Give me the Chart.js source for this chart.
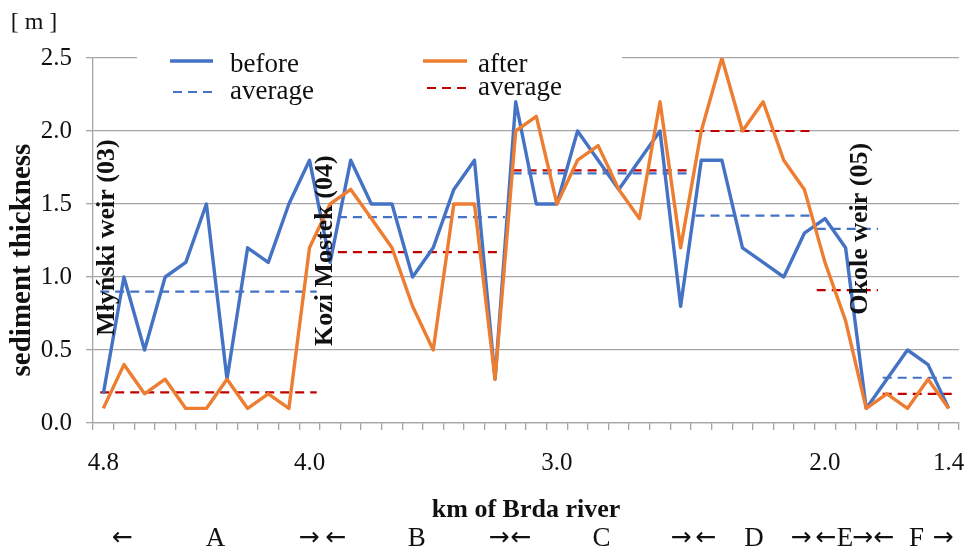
<!DOCTYPE html>
<html>
<head>
<meta charset="utf-8">
<script src="https://cdn.jsdelivr.net/npm/chart.js@4.4.1/dist/chart.umd.min.js"></script>
<style>
    html, body { margin: 0; padding: 0; background: #fff; }
    #wrap { width: 965px; height: 548px; }
</style>
</head>
<body>
<div id="wrap"><canvas id="sedimentChart" width="965" height="548"></canvas></div>
<script>
// sediment thickness [m] at 42 sampling points, from km 4.8 down to km 1.4
const before = [0.2, 1.0, 0.5, 1.0, 1.1, 1.5, 0.3, 1.2, 1.1, 1.5, 1.8, 1.1, 1.8, 1.5, 1.5, 1.0, 1.2, 1.6, 1.8, 0.3,
    2.2, 1.5, 1.5, 2.0, 1.8, 1.6, 1.8, 2.0, 0.8, 1.8, 1.8, 1.2, 1.1, 1.0, 1.3, 1.4, 1.2, 0.1, 0.3, 0.5, 0.4, 0.1];
const after = [0.1, 0.4, 0.2, 0.3, 0.1, 0.1, 0.3, 0.1, 0.2, 0.1, 1.2, 1.5, 1.6, 1.4, 1.2, 0.8, 0.5, 1.5, 1.5, 0.3,
    2.0, 2.1, 1.5, 1.8, 1.9, 1.6, 1.4, 2.2, 1.2, 2.0, 2.5, 2.0, 2.2, 1.8, 1.6, 1.1, 0.7, 0.1, 0.2, 0.1, 0.3, 0.1];

// km labels under the axis and the sampling point they sit under
const kmTickLabels = ["4.8", "4.0", "3.0", "2.0", "1.4"];
const kmTickIdx = [0, 10, 22, 35, 41];

// section averages A..F, each drawn from avgFrom to avgTo (sampling point index)
const sections = ["A", "B", "C", "D", "E", "F"];
const avgFrom = [-0.15, 10.65, 19.85, 28.72, 34.6, 37.8];
const avgTo = [10.35, 19.48, 28.29, 34.35, 37.57, 41.2];
const avgBefore = [0.9, 1.41, 1.71, 1.42, 1.33, 0.31];
const avgAfter = [0.21, 1.17, 1.73, 2.0, 0.91, 0.2];

// names of the weirs / bridge written vertically in the plot
const places = ["Młyński weir (03)", "Kozi Mostek (04)", "Okole weir (05)"];

// placement of the extra texts (in axis units)
const placeIdx = [0.2, 10.75, 36.7];
const placeVal = [1.27, 1.18, 1.33];
const sectionIdx = [5.44, 15.2, 24.16, 31.56, 35.97, 39.44];
const arrowTexts = ["←", "→", "←", "→", "←", "→", "←", "→", "←", "→", "←", "→"];
const arrowIdx = [0.93, 9.98, 11.28, 19.19, 20.26, 28.02, 29.23, 33.84, 35.05, 36.82, 37.86, 40.72];

const BLUE = "#4472c4";
const ORANGE = "#ed7d31";
const RED = "#c00000";
const GREY = "#a6a6a6";
const INK = "#111";
const SERIF = "'Liberation Serif', 'Times New Roman', serif";

const toPoints = (values) => values.map((v, i) => ({ x: i, y: v }));

// one dataset for all six dashed pieces, split by null gaps
function avgPoints(values) {
    const pts = [];
    values.forEach((v, k) => {
        pts.push({ x: avgFrom[k], y: v }, { x: avgTo[k], y: v });
        if (k < values.length - 1) {
            pts.push({ x: (avgTo[k] + avgFrom[k + 1]) / 2, y: null });
        }
    });
    return pts;
}

// tick marks sit between sampling points
const boundaries = before.map((_, i) => i - 0.5).concat([before.length - 0.5]);

const textLayer = {
    id: "textLayer",
    beforeDatasetsDraw(chart) {
        const ctx = chart.ctx;
        ctx.save();
        // legend box is white and hides the top grid line
        ctx.fillStyle = "#fff";
        ctx.fillRect(137, 50, 485, 56);

        const legendLine = (x1, x2, y, color, width, dash) => {
            ctx.beginPath();
            ctx.setLineDash(dash);
            ctx.strokeStyle = color;
            ctx.lineWidth = width;
            ctx.moveTo(x1, y);
            ctx.lineTo(x2, y);
            ctx.stroke();
        };
        legendLine(170, 213, 61, BLUE, 3.4, []);
        legendLine(173, 213, 92, BLUE, 2.2, [9, 6]);
        legendLine(423, 467, 61, ORANGE, 3.4, []);
        legendLine(427, 467, 88, RED, 2.2, [9, 6]);
        ctx.setLineDash([]);

        ctx.fillStyle = INK;
        ctx.font = `27px ${SERIF}`;
        ctx.textAlign = "left";
        ctx.textBaseline = "alphabetic";
        ctx.fillText("before", 230, 72);
        ctx.fillText("average", 230, 99);
        ctx.fillText("after", 478, 72);
        ctx.fillText("average", 478, 95);
        ctx.restore();
    },
    afterDatasetsDraw(chart) {
        const { ctx, chartArea } = chart;
        const xs = chart.scales.x;
        const ys = chart.scales.y;
        ctx.save();
        ctx.fillStyle = INK;

        // unit over the value axis
        ctx.font = `24px ${SERIF}`;
        ctx.textAlign = "center";
        ctx.textBaseline = "alphabetic";
        ctx.fillText("[ m ]", 34, 29);

        // km labels
        ctx.font = `25px ${SERIF}`;
        ctx.textBaseline = "middle";
        kmTickLabels.forEach((lab, k) => {
            ctx.fillText(lab, xs.getPixelForValue(kmTickIdx[k]), 463);
        });

        // axis titles
        ctx.font = `bold 26px ${SERIF}`;
        ctx.textBaseline = "alphabetic";
        ctx.fillText("km of Brda river", (chartArea.left + chartArea.right) / 2, 517);

        ctx.save();
        ctx.translate(23, 260);
        ctx.rotate(-Math.PI / 2);
        ctx.font = `bold 29px ${SERIF}`;
        ctx.textBaseline = "middle";
        ctx.fillText("sediment thickness", 0, 0);
        ctx.restore();

        // section letters with their arrows
        ctx.font = `27px ${SERIF}`;
        ctx.textBaseline = "alphabetic";
        sections.forEach((s, k) => {
            ctx.fillText(s, xs.getPixelForValue(sectionIdx[k]), 546);
        });
        ctx.font = `25px 'DejaVu Sans', sans-serif`;
        ctx.textBaseline = "middle";
        arrowTexts.forEach((a, k) => {
            ctx.fillText(a, xs.getPixelForValue(arrowIdx[k]), 538);
        });

        // vertical place names
        ctx.font = `bold 26px ${SERIF}`;
        ctx.textBaseline = "middle";
        places.forEach((name, k) => {
            ctx.save();
            ctx.translate(xs.getPixelForValue(placeIdx[k]), ys.getPixelForValue(placeVal[k]));
            ctx.rotate(-Math.PI / 2);
            ctx.fillText(name, 0, 0);
            ctx.restore();
        });
        ctx.restore();
    },
};

new Chart(document.getElementById("sedimentChart"), {
    type: "line",
    data: {
        datasets: [
            {
                label: "after",
                data: toPoints(after),
                borderColor: ORANGE,
                borderWidth: 3.4,
                borderJoinStyle: "round",
                pointRadius: 0,
                tension: 0,
            },
            {
                label: "before",
                data: toPoints(before),
                borderColor: BLUE,
                borderWidth: 3.4,
                borderJoinStyle: "round",
                pointRadius: 0,
                tension: 0,
            },
            {
                label: "average after",
                data: avgPoints(avgAfter),
                borderColor: RED,
                borderWidth: 2.2,
                borderDash: [9, 6],
                pointRadius: 0,
                spanGaps: false,
            },
            {
                label: "average before",
                data: avgPoints(avgBefore),
                borderColor: BLUE,
                borderWidth: 2.2,
                borderDash: [9, 6],
                pointRadius: 0,
                spanGaps: false,
            },
        ],
    },
    options: {
        responsive: false,
        animation: false,
        layout: { padding: { left: 0, right: 6, top: 58, bottom: 0 } },
        plugins: { legend: { display: false }, tooltip: { enabled: false } },
        scales: {
            x: {
                type: "linear",
                min: -0.5,
                max: before.length - 0.5,
                afterBuildTicks: (s) => {
                    s.ticks = boundaries.map((v) => ({ value: v }));
                },
                afterFit: (s) => {
                    s.height = 125;
                },
                ticks: { display: false },
                grid: { drawOnChartArea: false, tickLength: 7, color: GREY, lineWidth: 1.3 },
                border: { color: GREY, width: 1.3 },
            },
            y: {
                min: 0,
                max: 2.5,
                afterFit: (s) => {
                    s.width = 93;
                },
                ticks: {
                    stepSize: 0.5,
                    padding: 14,
                    color: INK,
                    font: { family: SERIF, size: 25 },
                    callback: (v) => v.toFixed(1),
                },
                grid: { color: GREY, lineWidth: 1.3, tickLength: 7 },
                border: { color: GREY, width: 1.3 },
            },
        },
    },
    plugins: [textLayer],
});
</script>
</body>
</html>
